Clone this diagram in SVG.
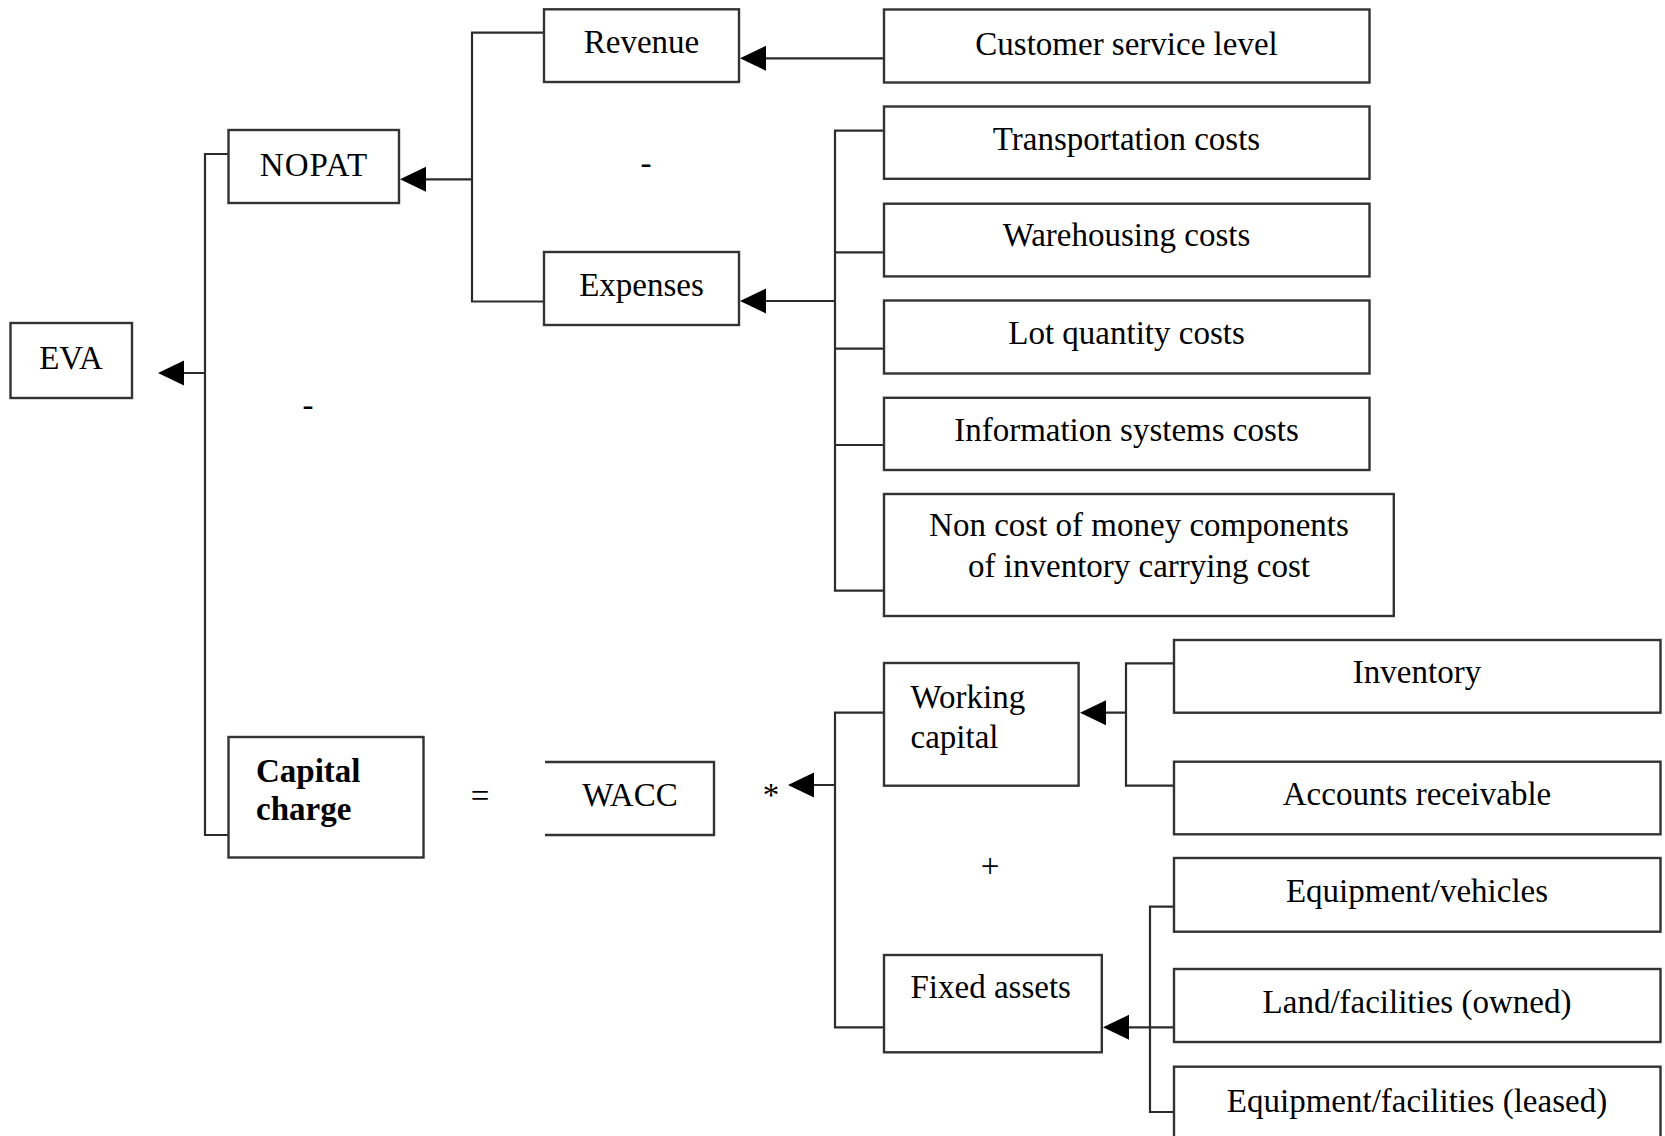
<svg xmlns="http://www.w3.org/2000/svg" width="1665" height="1136" viewBox="0 0 1665 1136">
  <style>
    .box { fill: #fff; stroke: #333; stroke-width: 2.4; }
    .open { fill: none; stroke: #333; stroke-width: 2.4; }
    .wire { fill: none; stroke: #2b2b2b; stroke-width: 2.2; }
    .head { fill: #000; }
    text { font-family: "Liberation Serif", "Times New Roman", serif; font-size: 33px; fill: #000; }
    .c { text-anchor: middle; }
    .b { font-weight: bold; }
  </style>
  <rect width="1665" height="1136" fill="#fff"/>

  <!-- connectors -->
  <g id="connectors">
    <!-- EVA tree -->
    <path class="wire" d="M228.5,154 H205 V835 H228.5 M205,373 H182"/>
    <polygon class="head" points="158,373 184,360.5 184,385.5"/>
    <!-- NOPAT tree -->
    <path class="wire" d="M544,32.7 H472 V301.5 H544 M472,179.3 H423"/>
    <polygon class="head" points="400,179.3 426,166.8 426,191.8"/>
    <!-- revenue driver -->
    <path class="wire" d="M884,58.3 H763"/>
    <polygon class="head" points="740,58.3 766,45.8 766,70.8"/>
    <!-- expense drivers -->
    <path class="wire" d="M884,130.6 H835 V590.6 H884 M835,252.3 H884 M835,348.7 H884 M835,445 H884 M835,301 H763"/>
    <polygon class="head" points="740,301 766,288.5 766,313.5"/>
    <!-- capital tree -->
    <path class="wire" d="M884,712.7 H835 V1027.3 H884 M835,785 H812"/>
    <polygon class="head" points="788,785 814,772.5 814,797.5"/>
    <!-- working capital -->
    <path class="wire" d="M1174,663.3 H1126 V785.7 H1174 M1126,712.7 H1102"/>
    <polygon class="head" points="1080,712.7 1106,700.2 1106,725.2"/>
    <!-- fixed assets -->
    <path class="wire" d="M1174,906.7 H1150 V1112 H1174 M1174,1027.3 H1126"/>
    <polygon class="head" points="1103,1027.3 1129,1014.8 1129,1039.8"/>
  </g>

  <!-- nodes -->
  <g id="eva">
    <rect class="box" x="10.5" y="323" width="121.5" height="75"/>
    <text class="c" x="71" y="369">EVA</text>
  </g>
  <g id="nopat">
    <rect class="box" x="228.5" y="130" width="170.5" height="73"/>
    <text class="c" x="314" y="175.7" letter-spacing="1">NOPAT</text>
  </g>
  <g id="revenue">
    <rect class="box" x="544" y="9.3" width="195" height="72.7"/>
    <text class="c" x="641.5" y="53">Revenue</text>
  </g>
  <g id="expenses">
    <rect class="box" x="544" y="252" width="195" height="73"/>
    <text class="c" x="641.5" y="295.7">Expenses</text>
  </g>
  <g id="customer-service">
    <rect class="box" x="884" y="9.5" width="485.5" height="73"/>
    <text class="c" x="1126.5" y="54.5">Customer service level</text>
  </g>
  <g id="transportation">
    <rect class="box" x="884" y="106.5" width="485.5" height="72.3"/>
    <text class="c" x="1126.5" y="149.5">Transportation costs</text>
  </g>
  <g id="warehousing">
    <rect class="box" x="884" y="203.7" width="485.5" height="72.7"/>
    <text class="c" x="1126.5" y="246">Warehousing costs</text>
  </g>
  <g id="lot-quantity">
    <rect class="box" x="884" y="300.5" width="485.5" height="73"/>
    <text class="c" x="1126.5" y="343.5">Lot quantity costs</text>
  </g>
  <g id="information-systems">
    <rect class="box" x="884" y="397.8" width="485.5" height="72.2"/>
    <text class="c" x="1126.5" y="441">Information systems costs</text>
  </g>
  <g id="carrying-cost">
    <rect class="box" x="884" y="494" width="509.8" height="122"/>
    <text class="c" x="1139" y="536">Non cost of money components</text>
    <text class="c" x="1139" y="576.5">of inventory carrying cost</text>
  </g>
  <g id="capital-charge">
    <rect class="box" x="228.5" y="737" width="195" height="120.5"/>
    <text class="b" x="256" y="782">Capital</text>
    <text class="b" x="256" y="820">charge</text>
  </g>
  <g id="wacc">
    <path class="open" d="M545,762 H714 V835 H545"/>
    <text class="c" x="630" y="806">WACC</text>
  </g>
  <g id="working-capital">
    <rect class="box" x="884" y="663" width="194.6" height="122.7"/>
    <text x="910.5" y="707.5">Working</text>
    <text x="910.5" y="748">capital</text>
  </g>
  <g id="fixed-assets">
    <rect class="box" x="884" y="955" width="217.8" height="97.3"/>
    <text x="910.5" y="998">Fixed assets</text>
  </g>
  <g id="inventory">
    <rect class="box" x="1174" y="640" width="486.5" height="72.7"/>
    <text class="c" x="1417" y="682.7">Inventory</text>
  </g>
  <g id="accounts-receivable">
    <rect class="box" x="1174" y="761.7" width="486.5" height="72.6"/>
    <text class="c" x="1417" y="805">Accounts receivable</text>
  </g>
  <g id="equipment-vehicles">
    <rect class="box" x="1174" y="858" width="486.5" height="73.7"/>
    <text class="c" x="1417" y="901.7">Equipment/vehicles</text>
  </g>
  <g id="land-facilities">
    <rect class="box" x="1174" y="969" width="486.5" height="73"/>
    <text class="c" x="1417" y="1013">Land/facilities (owned)</text>
  </g>
  <g id="leased-facilities">
    <rect class="box" x="1174" y="1066.7" width="486.5" height="90"/>
    <text class="c" x="1417" y="1111.7">Equipment/facilities (leased)</text>
  </g>

  <!-- operators -->
  <g id="operators">
    <text class="c" x="646" y="174">-</text>
    <text class="c" x="308" y="416">-</text>
    <text class="c" x="480" y="807">=</text>
    <text class="c" x="771" y="806">*</text>
    <text class="c" x="990" y="877">+</text>
  </g>
</svg>
